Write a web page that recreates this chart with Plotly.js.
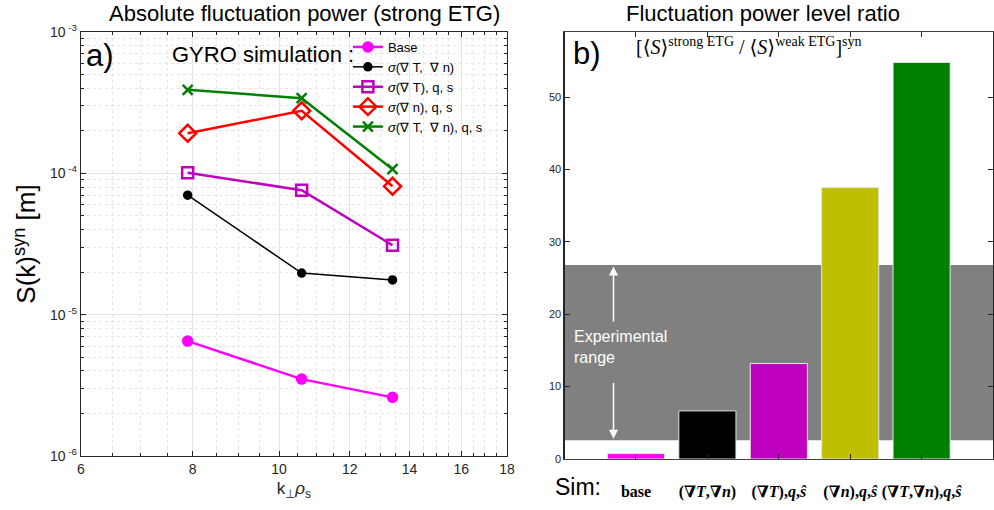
<!DOCTYPE html>
<html><head><meta charset="utf-8">
<script src="https://cdn.plot.ly/plotly-3.0.1.min.js"></script>
<style>body{margin:0;background:#fff}#c{width:994px;height:510px}</style>
</head><body><div id="c"></div>
<script>
// ---- data: panel a) ----
const kRho = [7.9, 10.6, 13.4];
const seriesNames = ['Base', '<i>σ</i>(∇ T,  ∇ n)', '<i>σ</i>(∇ T), q, s', '<i>σ</i>(∇ n), q, s', '<i>σ</i>(∇ T,  ∇ n), q, s'];
const sBase = [6.5e-6, 3.5e-6, 2.6e-6];
const sGradTN = [7.0e-5, 1.97e-5, 1.76e-5];
const sGradTqs = [1.01e-4, 7.6e-5, 3.1e-5];
const sGradNqs = [1.92e-4, 2.77e-4, 8.1e-5];
const sGradTNqs = [3.9e-4, 3.4e-4, 1.07e-4];
const yTickVals = [1e-6, 1e-5, 1e-4, 1e-3];
const yTickText = ['10<sup> -6</sup>', '10<sup> -5</sup>', '10<sup> -4</sup>', '10<sup> -3</sup>'];
const xTickVals = [6, 8, 10, 12, 14, 16, 18];

// ---- data: panel b) ----
const barPos = [1, 2, 3, 4, 5];
const barLabels = ['<b>base</b>', '<b>(∇<i>T</i>,∇<i>n</i>)</b>', '<b>(∇<i>T</i>),<i>q</i>,<i>ŝ</i></b>', '<b>(∇<i>n</i>),<i>q</i>,<i>ŝ</i></b>', '<b>(∇<i>T</i>,∇<i>n</i>),<i>q</i>,<i>ŝ</i></b>'];
const ratio = [0.75, 6.65, 13.2, 37.5, 54.8];
const barColors = ['#ff00ff', '#000000', '#bf00bf', '#bfbf00', '#008000'];
const expRange = [2.6, 26.8];

const xMinor = [];
for (let v = 6.5; v < 18; v += 0.5) if (v % 2 !== 0) xMinor.push(v);
const yMinor = [];
for (let d = 1e-6; d < 1e-3; d *= 10) for (let m = 2; m <= 9; m++) yMinor.push(m * d);

const colorsA = ['#ff00ff', '#000000', '#bf00bf', '#ff0000', '#008000'];
const symbolsA = ['circle', 'circle', 'square-open', 'diamond-open', 'x-thin-open'];
const sizesA = [9, 7, 11, 13, 10];
const ysA = [sBase, sGradTN, sGradTqs, sGradNqs, sGradTNqs];

const traces = ysA.map((ys, i) => ({
  x: kRho, y: ys, name: seriesNames[i], type: 'scatter', mode: 'lines+markers',
  xaxis: 'x', yaxis: 'y',
  line: {color: colorsA[i], width: i === 1 ? 1.5 : 2.5},
  marker: {color: colorsA[i], symbol: symbolsA[i], size: sizesA[i], line: {color: colorsA[i], width: 2.5}}
}));

traces.push({
  x: barPos, y: ratio, type: 'bar', xaxis: 'x2', yaxis: 'y2', showlegend: false,
  width: 0.8, marker: {color: barColors, line: {color: '#e6e6e6', width: 1}}
});

const font = 'Liberation Sans, Arial, sans-serif';
const layout = {
  width: 994, height: 510, paper_bgcolor: '#fff', plot_bgcolor: '#fff',
  margin: {l: 0, r: 0, t: 32, b: 51},
  font: {family: font, color: '#262626'},
  showlegend: true,
  legend: {x: 0.350, y: 1.0, xanchor: 'left', yanchor: 'top', bgcolor: 'rgba(0,0,0,0)',
           font: {size: 13, color: '#000'}, tracegroupgap: 0, itemwidth: 30},
  xaxis: {domain: [0.0815, 0.510], type: 'log', range: [Math.log10(6), Math.log10(18)],
          tickmode: 'array', tickvals: xTickVals, ticks: 'inside', ticklen: 5, tickcolor: '#262626',
          showgrid: true, gridcolor: '#e3e3e3', gridwidth: 1,
          minor: {tickmode: 'array', tickvals: xMinor, ticks: 'inside', ticklen: 3, showgrid: true, gridcolor: '#e6e6e6', griddash: 'dot'},
          showline: true, linecolor: '#262626', linewidth: 1.2, mirror: 'ticks', zeroline: false,
          tickfont: {size: 14, color: '#262626'},
          title: {text: 'k<sub>⊥</sub><i>ρ</i><sub>s</sub>', font: {size: 17, color: '#262626'}, standoff: 6}},
  yaxis: {domain: [0.007, 1], type: 'log', range: [-6, -3], anchor: 'x',
          tickmode: 'array', tickvals: yTickVals, ticktext: yTickText, ticks: 'inside', ticklen: 5, tickcolor: '#262626',
          showgrid: true, gridcolor: '#e3e3e3',
          minor: {tickmode: 'array', tickvals: yMinor, ticks: 'inside', ticklen: 3, showgrid: true, gridcolor: '#e6e6e6', griddash: 'dot'},
          showline: true, linecolor: '#262626', linewidth: 1.2, mirror: 'ticks', zeroline: false,
          tickfont: {size: 14, color: '#262626'},
          title: {text: 'S(k)<sup>syn</sup> [m]', font: {size: 26, color: '#000'}, standoff: 6}},
  xaxis2: {domain: [0.568, 0.999], anchor: 'y2', range: [0, 6],
           tickmode: 'array', tickvals: barPos, ticktext: barLabels, ticks: 'inside', ticklen: 5, tickcolor: '#262626',
           tickangle: 0,
           showgrid: false, showline: true, linecolor: '#444', linewidth: 1.2, mirror: 'ticks', zeroline: false,
           ticklabelstandoff: 18,
           tickfont: {family: 'Liberation Serif, DejaVu Serif, serif', size: 16, color: '#000'}},
  yaxis2: {domain: [0, 1], anchor: 'x2', range: [0, 59],
           tickvals: [0, 10, 20, 30, 40, 50], ticks: 'inside', ticklen: 5, tickcolor: '#262626',
           showgrid: false, showline: true, linecolor: '#262626', linewidth: 1.2, mirror: 'ticks', zeroline: false,
           tickfont: {size: 11, color: '#262626'}},
  shapes: [
    {type: 'rect', xref: 'x2', yref: 'y2', x0: 0, x1: 6, y0: expRange[0], y1: expRange[1],
     fillcolor: '#808080', line: {width: 0}, layer: 'below'}
  ],
  annotations: [
    {xref: 'paper', yref: 'paper', x: 0.306, y: 1.0, yshift: 33, xanchor: 'center', yanchor: 'top', showarrow: false,
     text: 'Absolute fluctuation power (strong ETG)', font: {size: 22, color: '#000'}},
    {xref: 'paper', yref: 'paper', x: 0.768, y: 1.0, yshift: 33, xanchor: 'center', yanchor: 'top', showarrow: false,
     text: 'Fluctuation power level ratio', font: {size: 22, color: '#000'}},
    {xref: 'paper', yref: 'paper', x: 84/994, y: 1.0, yshift: -4, xanchor: 'left', yanchor: 'top', showarrow: false,
     text: 'a)', font: {size: 31, color: '#000'}},
    {xref: 'paper', yref: 'paper', x: 170/994, y: 1.0, yshift: -8, xanchor: 'left', yanchor: 'top', showarrow: false,
     text: 'GYRO simulation :', font: {size: 22, color: '#000'}},
    {xref: 'paper', yref: 'paper', x: 571/994, y: 1.0, yshift: -2, xanchor: 'left', yanchor: 'top', showarrow: false,
     text: 'b)', font: {size: 31, color: '#000'}},
    {xref: 'paper', yref: 'paper', x: 634/994, y: 1.0, yshift: 0, xanchor: 'left', yanchor: 'top', showarrow: false,
     text: '[⟨<i>S</i>⟩<sup>strong ETG</sup> / ⟨<i>S</i>⟩<sup>weak ETG</sup>]<sup>syn</sup>',
     font: {family: 'Liberation Serif, DejaVu Serif, serif', size: 20, color: '#000'}},
    {xref: 'x2', yref: 'y2', x: 0.1, y: 15.5, xanchor: 'left', yanchor: 'middle', showarrow: false, align: 'left',
     text: 'Experimental<br>range', font: {size: 16, color: '#fff'}},
    {xref: 'x2', yref: 'y2', axref: 'x2', ayref: 'y2', x: 0.685, y: 26.6, ax: 0.685, ay: 18.8,
     showarrow: true, arrowhead: 2, arrowsize: 1.2, arrowwidth: 1.5, arrowcolor: '#fff', text: ''},
    {xref: 'x2', yref: 'y2', axref: 'x2', ayref: 'y2', x: 0.685, y: 2.8, ax: 0.685, ay: 10.7,
     showarrow: true, arrowhead: 2, arrowsize: 1.2, arrowwidth: 1.5, arrowcolor: '#fff', text: ''},
    {xref: 'paper', yref: 'paper', x: 553/994, y: 0, yshift: -28, xanchor: 'left', yanchor: 'middle', showarrow: false,
     text: 'Sim:', font: {size: 23, color: '#000'}}
  ]
};
Plotly.newPlot('c', traces, layout, {displayModeBar: false, staticPlot: true});
</script></body></html>
